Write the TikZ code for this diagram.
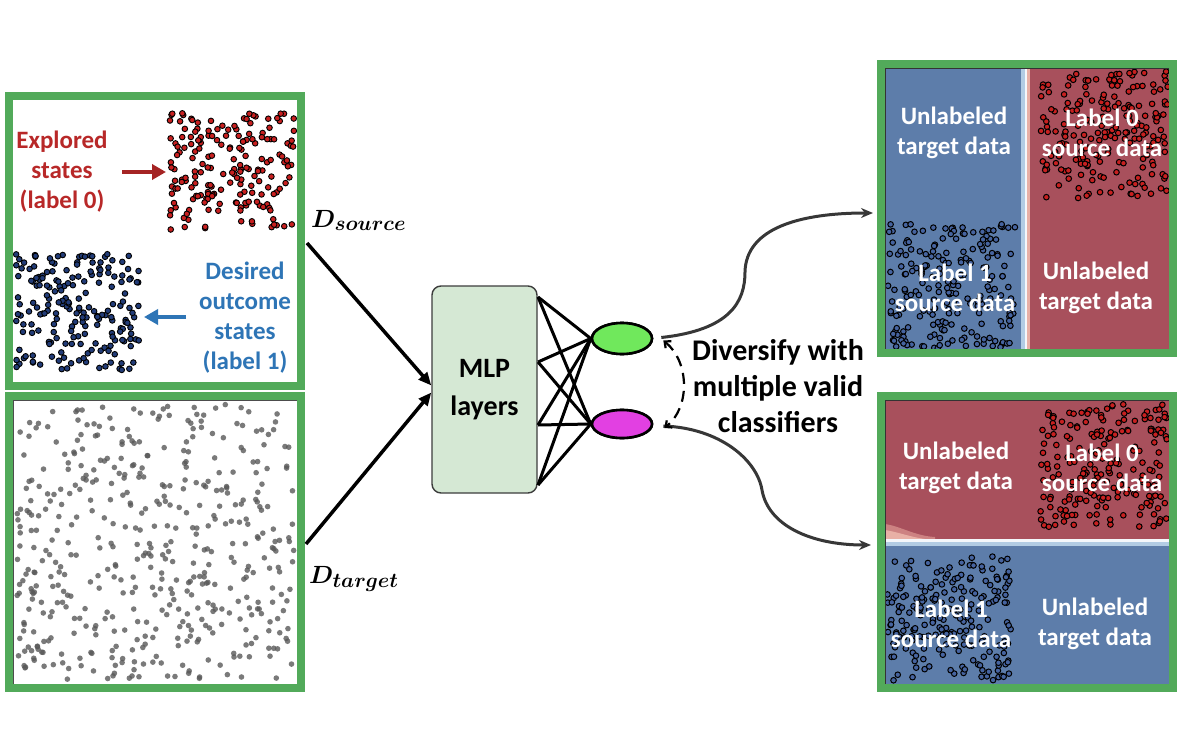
\documentclass[tikz,border=0pt]{standalone}
\usepackage{fontspec}
\setmainfont{Carlito}
\usepackage{bm}
\usetikzlibrary{arrows.meta,shapes.geometric,calc}
\definecolor{frame}{RGB}{82,170,90}
\definecolor{txtred}{RGB}{184,40,40}
\definecolor{txtblue}{RGB}{46,117,182}
\definecolor{mlpfill}{RGB}{213,232,212}
\definecolor{mlpdraw}{RGB}{60,60,60}
\definecolor{ellgreen}{RGB}{112,232,92}
\definecolor{ellmag}{RGB}{226,64,226}
\definecolor{regblue}{RGB}{93,125,170}
\definecolor{regred}{RGB}{168,80,92}
\definecolor{bandblue}{RGB}{178,204,228}
\definecolor{bandred}{RGB}{232,176,166}
\definecolor{bandpink}{RGB}{205,130,130}
\definecolor{dotred}{RGB}{200,32,32}
\definecolor{dotblue}{RGB}{34,60,120}
\definecolor{dotblueR}{RGB}{70,100,160}
\definecolor{curvegray}{RGB}{55,55,55}
\begin{document}
\begin{tikzpicture}[x=1pt,y=-1pt,
  panelframe/.style={draw=frame,line width=8pt},
  lbl/.style={font=\bfseries\fontsize{25}{30}\selectfont,align=center,inner sep=0pt},
  wlbl/.style={lbl,text=white},
  reddot/.style={fill=dotred,draw=black,line width=0.9pt},
  bluedot/.style={fill=dotblue,draw=black,line width=0.9pt},
  reddotR/.style={fill=dotred,draw=black,line width=1pt},
  bluedotR/.style={fill=dotblueR,draw=black,line width=1pt},
  graydot/.style={fill=black!65,opacity=0.8},
  feed/.style={line width=3.5pt,-{Triangle[length=13pt,width=11pt]}},
  wire/.style={line width=3pt},
  outcurve/.style={draw=curvegray,line width=3pt,-{Stealth[length=12pt,width=10pt]}},
  divarc/.style={draw=black,line width=2.2pt,dash pattern=on 11pt off 7pt,
     {Straight Barb[length=5pt,width=9pt]}-{Straight Barb[length=5pt,width=9pt]}},
  cls/.style={ellipse,draw=black,line width=2.6pt,minimum width=60pt,inner sep=0pt}
]
\useasboundingbox (0,0) rectangle (1180,738);

% ---------------- left top panel ----------------
\fill[white] (13,100) rectangle (297,382);
\pgfmathsetseed{11}
\foreach \i in {1,...,190}{
  \pgfmathsetmacro\px{170+125*rnd}
  \pgfmathsetmacro\py{113+117*rnd}
  \filldraw[reddot] (\px,\py) circle[radius=2.8];
}
\foreach \i in {1,...,200}{
  \pgfmathsetmacro\px{15+125*rnd}
  \pgfmathsetmacro\py{254+116*rnd}
  \filldraw[bluedot] (\px,\py) circle[radius=2.8];
}
\node[lbl,text=txtred] (explored) at (62,172) {Explored\\states\\(label 0)};
\node[lbl,text=txtblue] (desired) at (245,318) {Desired\\outcome\\states\\(label 1)};
\coordinate (ra0) at (122,172);
\coordinate (ra1) at (166,172);
\draw[txtred!90!black,line width=4pt,-{Triangle[length=14pt,width=15pt]}] (ra0) -- (ra1);
\coordinate (ba0) at (186,317);
\coordinate (ba1) at (144,317);
\draw[txtblue,line width=4pt,-{Triangle[length=14pt,width=15pt]}] (ba0) -- (ba1);
\draw[panelframe] (9,96) rectangle (301,386);

% ---------------- left bottom panel ----------------
\fill[white] (13,400) rectangle (297,684);
\pgfmathsetseed{23}
\foreach \i in {1,...,480}{
  \pgfmathsetmacro\px{17+277*rnd}
  \pgfmathsetmacro\py{404+276*rnd}
  \fill[graydot] (\px,\py) circle[radius=2.8];
}
\draw[black!70,line width=0.8pt] (13,400) rectangle (297,684);
\draw[panelframe] (9,396) rectangle (301,688);

% ---------------- labels D ----------------
\node[inner sep=0pt,anchor=base west] (dsrc) at (311,227) {\fontsize{31}{34}\selectfont$\bm{D_{\bm{source}}}$};
\node[inner sep=0pt,anchor=base west] (dtgt) at (309,583) {\fontsize{31}{34}\selectfont$\bm{D_{\bm{target}}}$};

% ---------------- MLP ----------------
\node[draw=mlpdraw,fill=mlpfill,line width=1.4pt,rounded corners=9pt,
      minimum width=105pt,minimum height=207pt,inner sep=0pt,
      font=\bfseries\fontsize{28}{38}\selectfont,align=center] (mlp) at (484.5,389.5) {MLP\\layers};

\coordinate (srcout) at (307,243);
\coordinate (tgtout) at (306,544);
\draw[feed] (srcout) -- ($(mlp.west)+(0,-4)$);
\draw[feed] (tgtout) -- ($(mlp.west)+(0,3)$);

% ---------------- classifiers ----------------
\node[cls,fill=ellgreen,minimum height=31pt] (cg) at (622,338.5) {};
\node[cls,fill=ellmag,minimum height=28pt] (cm) at (622,424) {};

\coordinate (m1) at (538,297);
\coordinate (m2) at (538,362);
\coordinate (m3) at (538,425);
\coordinate (m4) at (538,485);
\foreach \m in {m1,m2,m3,m4}{
  \draw[wire] (\m) -- (cg.west);
  \draw[wire] (\m) -- (cm.west);
}
\node[cls,fill=ellgreen,minimum height=31pt] (cgtop) at (cg) {};
\node[cls,fill=ellmag,minimum height=28pt] (cmtop) at (cm) {};

% ---------------- right top panel ----------------
\fill[regblue] (885,68) rectangle (1021,349);
\fill[bandblue] (1021,68) rectangle (1025,349);
\fill[white!85!bandblue] (1025,68) rectangle (1027,349);
\fill[bandred] (1027,68) rectangle (1030,349);
\fill[regred] (1030,68) rectangle (1169,349);
\pgfmathsetseed{37}
\foreach \i in {1,...,200}{
  \pgfmathsetmacro\px{1041+127*rnd}
  \pgfmathsetmacro\py{71+127*rnd}
  \filldraw[reddotR] (\px,\py) circle[radius=2.8];
}
\foreach \i in {1,...,210}{
  \pgfmathsetmacro\px{887+128*rnd}
  \pgfmathsetmacro\py{224+126*rnd}
  \filldraw[bluedotR] (\px,\py) circle[radius=2.8];
}
\node[wlbl] (t1) at (954,133) {Unlabeled\\target data};
\node[wlbl] (t2) at (1102,133) {Label 0\\source data};
\node[wlbl] (t3) at (955,288) {Label 1\\source data};
\node[wlbl] (t4) at (1096,288) {Unlabeled\\target data};
\draw[black!80,line width=0.8pt] (885,68) rectangle (1169,349);
\draw[panelframe] (881,64) rectangle (1173,353);

% ---------------- right bottom panel ----------------
\fill[regred] (885,400) rectangle (1169,539);
\fill[bandpink] (885,524) .. controls (900,526) and (915,536) .. (935,537) -- (935,539) -- (885,539) -- cycle;
\fill[bandred] (885,530) .. controls (898,532) and (910,537) .. (925,539) -- (885,539) -- cycle;
\fill[white!85!bandblue] (885,539) rectangle (1169,542);
\fill[bandblue] (885,542) rectangle (1169,546);
\fill[regblue] (885,546) rectangle (1169,684);
\pgfmathsetseed{53}
\foreach \i in {1,...,200}{
  \pgfmathsetmacro\px{1040+127*rnd}
  \pgfmathsetmacro\py{404+124*rnd}
  \filldraw[reddotR] (\px,\py) circle[radius=2.8];
}
\foreach \i in {1,...,210}{
  \pgfmathsetmacro\px{886+126*rnd}
  \pgfmathsetmacro\py{556+126*rnd}
  \filldraw[bluedotR] (\px,\py) circle[radius=2.8];
}
\node[wlbl] (b1) at (956,468) {Unlabeled\\target data};
\node[wlbl] (b2) at (1102,468) {Label 0\\source data};
\node[wlbl] (b3) at (951,624) {Label 1\\source data};
\node[wlbl] (b4) at (1095,624) {Unlabeled\\target data};
\draw[black!80,line width=0.8pt] (885,400) rectangle (1169,684);
\draw[panelframe] (881,396) rectangle (1173,688);

% ---------------- output curves ----------------
\coordinate (topin) at (873,213);
\coordinate (botin) at (871,545);
\draw[outcurve] ($(cg.east)+(8,-1)$) .. controls (730,330) and (745,302) .. (745,272)
   .. controls (746,228) and (800,213) .. (topin);
\draw[outcurve] ($(cm.east)+(10,2)$) .. controls (720,428) and (757,460) .. (762,490)
   .. controls (768,525) and (810,545) .. (botin);
\draw[divarc] ($(cg.east)+(10,2)$) .. controls (690,362) and (690,408) .. ($(cm.east)+(11,4)$);

\node[font=\bfseries\fontsize{30}{36}\selectfont,align=center,inner sep=0pt] (div) at (778,386)
  {Diversify with\\multiple valid\\classifiers};
\end{tikzpicture}
\end{document}
